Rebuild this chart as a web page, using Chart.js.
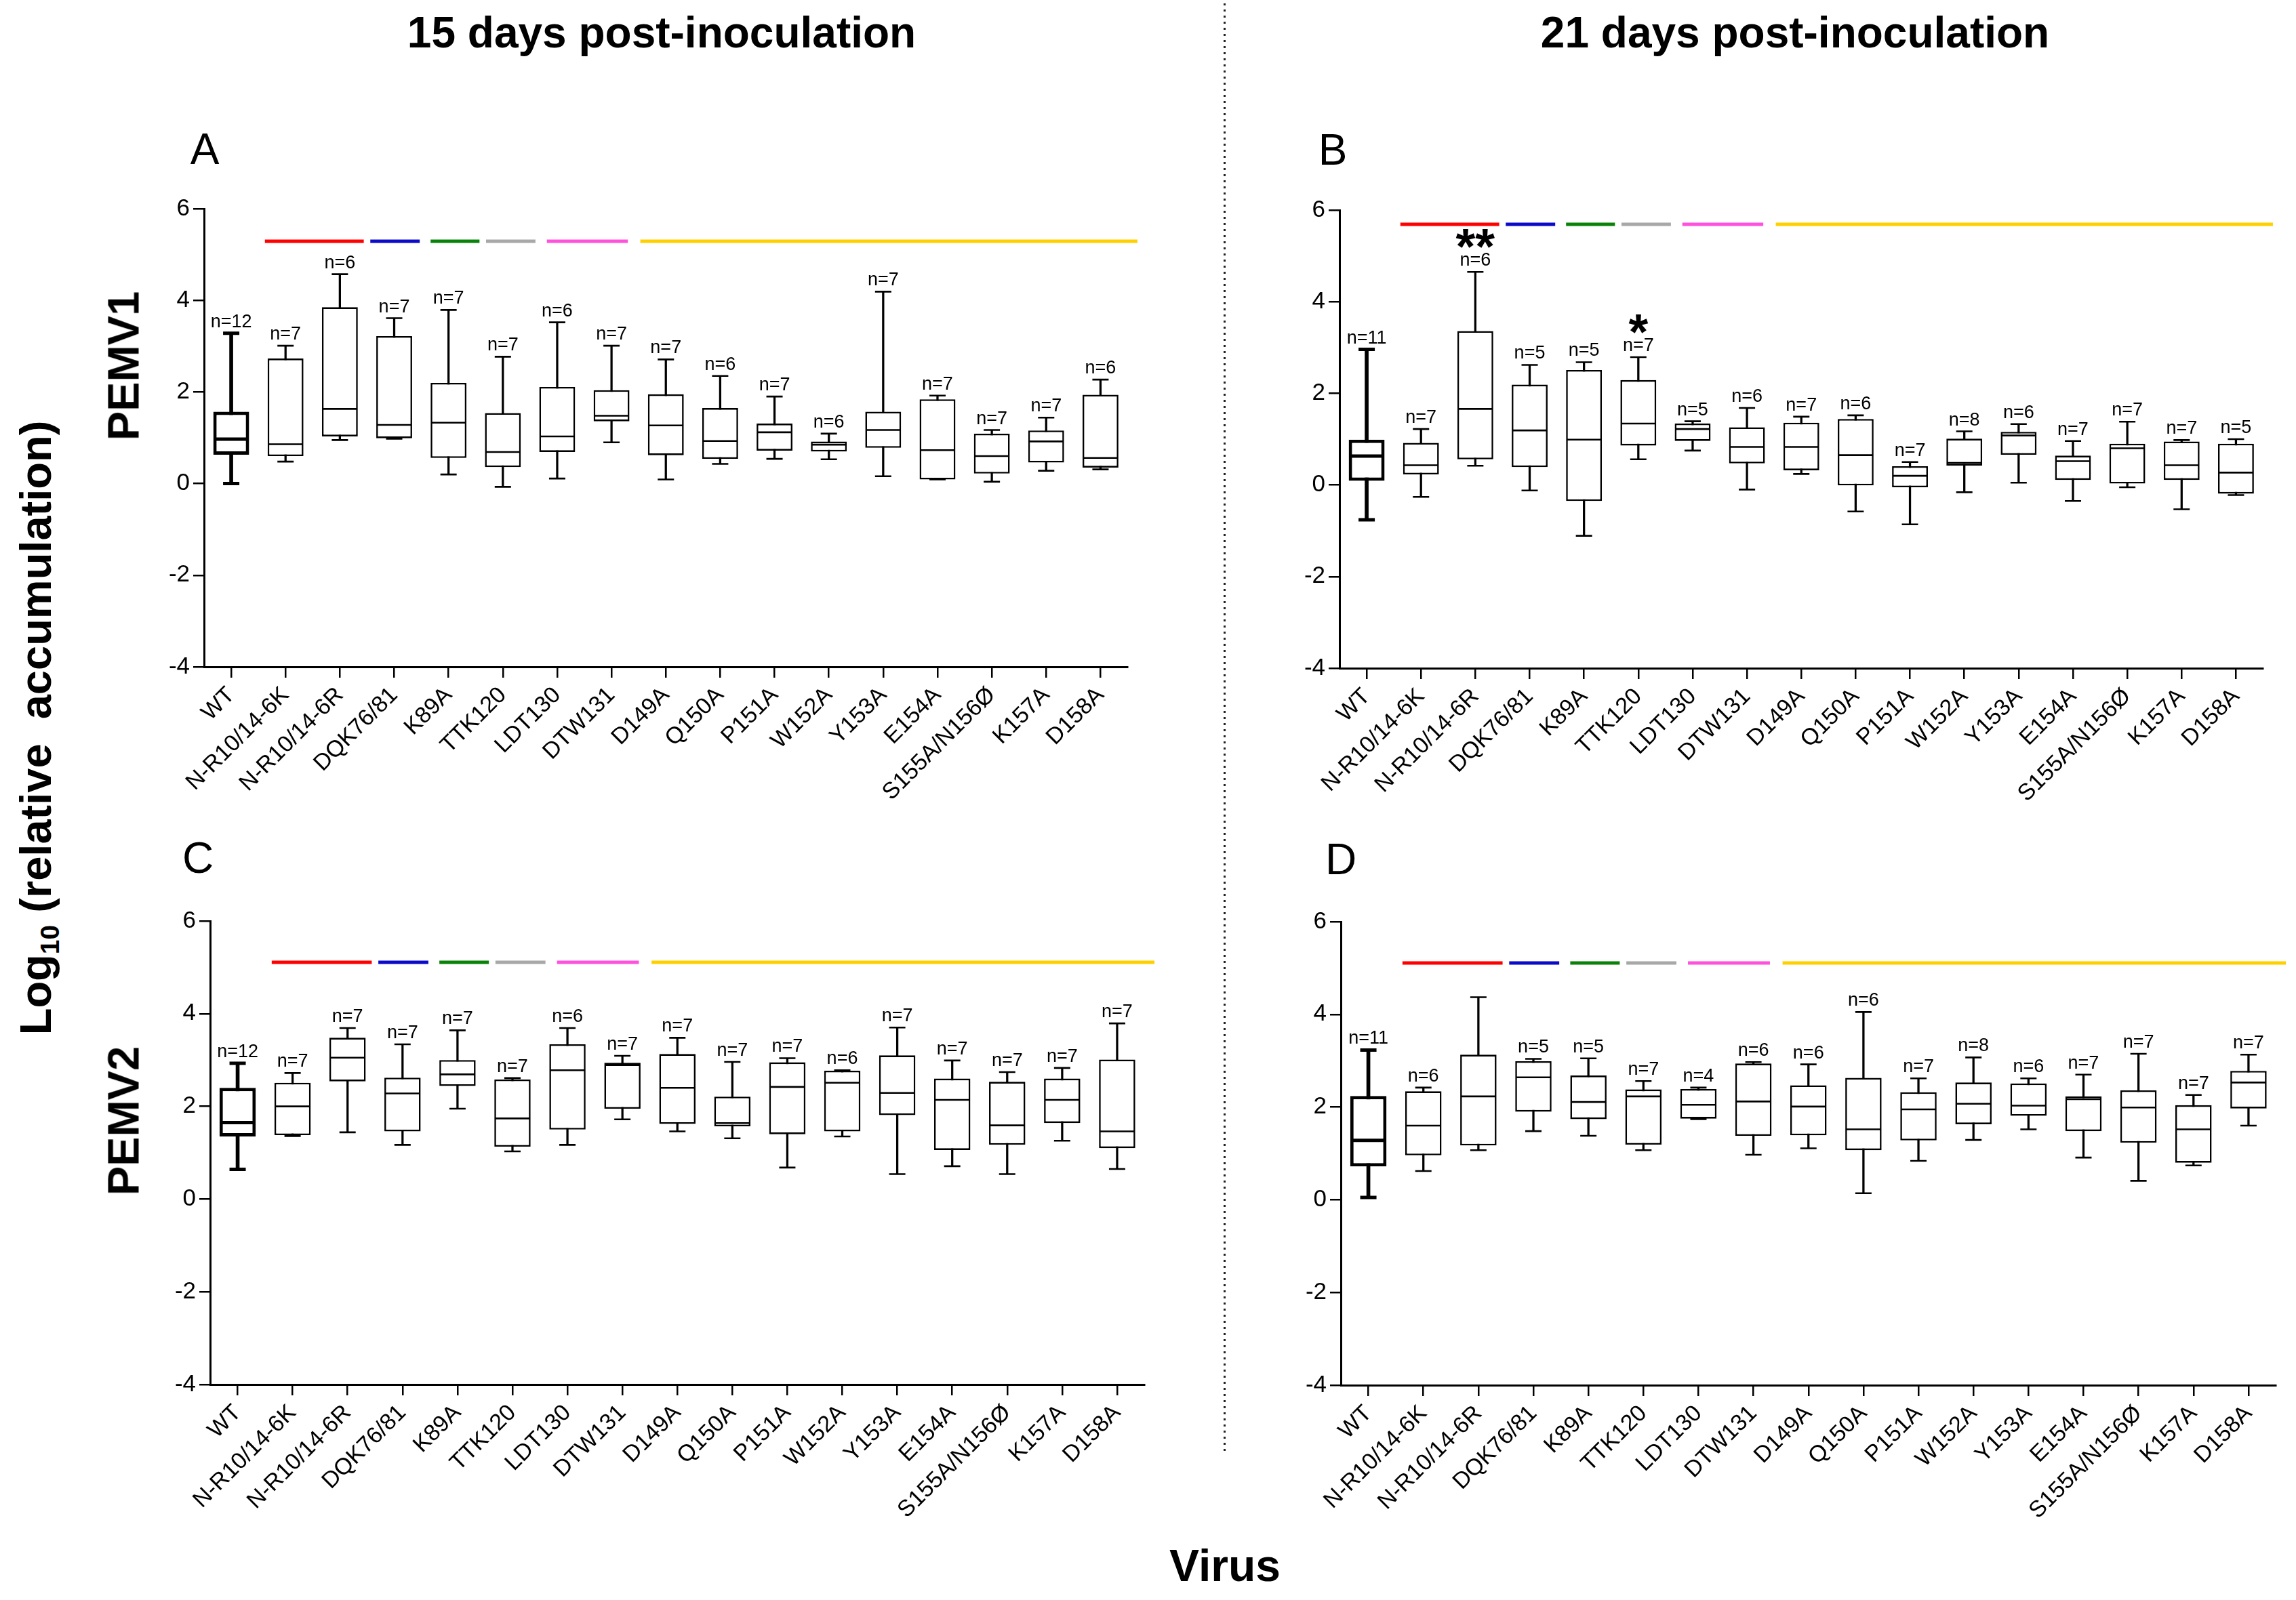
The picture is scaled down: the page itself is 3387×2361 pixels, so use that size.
<!DOCTYPE html>
<html><head><meta charset="utf-8">
<script src="https://cdn.jsdelivr.net/npm/chart.js@4.4.0/dist/chart.umd.min.js"></script>
<style>
html,body{margin:0;padding:0;background:#fff;}
body{width:3387px;height:2361px;position:relative;overflow:hidden;font-family:"Liberation Sans",Arial,sans-serif;}
.lbl{position:absolute;transform:translate(-50%,-50%);white-space:nowrap;line-height:1;color:#000;z-index:3;}
.rot{transform:translate(-50%,-50%) rotate(-90deg);}
.cv{position:absolute;z-index:1;}
#dots{position:absolute;left:1805px;top:5px;width:3px;height:2142px;background:repeating-linear-gradient(to bottom,#222 0px,#222 3px,transparent 3px,transparent 9px);z-index:0;}
</style></head><body>
<div id="dots"></div>
<div class="lbl" style="left:976px;top:48px;font-size:64px;font-weight:bold;">15 days post-inoculation</div>
<div class="lbl" style="left:2648px;top:48px;font-size:64px;font-weight:bold;">21 days post-inoculation</div>
<div class="lbl" style="left:302px;top:220px;font-size:64px;">A</div>
<div class="lbl" style="left:1966px;top:221px;font-size:64px;">B</div>
<div class="lbl" style="left:292px;top:1266px;font-size:64px;">C</div>
<div class="lbl" style="left:1978px;top:1268px;font-size:64px;">D</div>
<div class="lbl rot" style="left:182px;top:540px;font-size:65px;font-weight:bold;">PEMV1</div>
<div class="lbl rot" style="left:182px;top:1654px;font-size:65px;font-weight:bold;">PEMV2</div>
<div class="lbl rot" style="left:52px;top:1074px;font-size:65px;font-weight:bold;">Log<span style="font-size:0.6em;position:relative;top:0.3em;">10</span> (relative&nbsp; accumulation)</div>
<div class="lbl" style="left:1807px;top:2310px;font-size:66px;font-weight:bold;">Virus</div>

<canvas id="cA" class="cv" width="1513" height="1036" style="left:181px;top:248px;width:1513px;height:1036px;"></canvas>
<canvas id="cB" class="cv" width="1513" height="1036" style="left:1856px;top:250px;width:1513px;height:1036px;"></canvas>
<canvas id="cC" class="cv" width="1529" height="1044" style="left:190px;top:1299px;width:1529px;height:1044px;"></canvas>
<canvas id="cD" class="cv" width="1530" height="1044" style="left:1858px;top:1300px;width:1530px;height:1044px;"></canvas>

<script>
const categories = ["WT","N-R10/14-6K","N-R10/14-6R","DQK76/81","K89A","TTK120","LDT130","DTW131","D149A","Q150A","P151A","W152A","Y153A","E154A","S155A/N156\u00D8","K157A","D158A"];
const yTickValues = [-4,-2,0,2,4,6];

// Group bars (category units) and colours
const groupStart = [0.62, 2.56, 3.67, 4.69, 5.81, 7.53];
const groupEnd   = [2.44, 3.47, 4.57, 5.60, 7.30, 16.68];
const groupColors = ["#ff0000","#0a0ac8","#0a820a","#a8a8a8","#ff52dc","#ffd000"];
const aGroupY = 5.29, bGroupY = 5.69, cGroupY = 5.11, dGroupY = 5.11;

// Panel A: PEMV1, 15 dpi
const aMin = [0.00,0.48,0.95,0.98,0.20,-0.07,0.11,0.90,0.09,0.43,0.54,0.53,0.16,0.09,0.04,0.28,0.31];
const aQ1  = [0.63,0.60,1.03,0.99,0.56,0.36,0.69,1.36,0.62,0.54,0.72,0.70,0.78,0.09,0.22,0.46,0.35];
const aMed = [0.97,0.86,1.63,1.28,1.33,0.69,1.03,1.48,1.27,0.93,1.12,0.85,1.17,0.73,0.60,0.92,0.56];
const aQ3  = [1.57,2.73,3.85,3.22,2.20,1.54,2.11,2.04,1.95,1.65,1.31,0.92,1.57,1.84,1.09,1.16,1.94];
const aMax = [3.28,3.01,4.57,3.61,3.79,2.77,3.52,3.01,2.71,2.35,1.90,1.09,4.19,1.92,1.17,1.44,2.27];
const aN   = [12,7,6,7,7,7,6,7,7,6,7,6,7,7,7,7,6];

// Panel B: PEMV1, 21 dpi
const bMin = [-0.76,-0.26,0.42,-0.12,-1.11,0.56,0.75,-0.10,0.24,-0.58,-0.86,-0.16,0.05,-0.35,-0.05,-0.53,-0.22];
const bQ1  = [0.09,0.23,0.56,0.39,-0.35,0.86,0.96,0.47,0.32,-0.01,-0.05,0.42,0.66,0.11,0.03,0.11,-0.19];
const bMed = [0.63,0.43,1.66,1.19,0.99,1.34,1.22,0.83,0.83,0.65,0.20,0.48,1.08,0.52,0.80,0.43,0.27];
const bQ3  = [0.99,0.92,3.36,2.19,2.51,2.29,1.34,1.26,1.36,1.44,0.41,1.01,1.16,0.64,0.90,0.95,0.90];
const bMax = [2.96,1.22,4.65,2.62,2.68,2.79,1.39,1.68,1.49,1.52,0.50,1.17,1.33,0.96,1.38,0.98,1.00];
const bN   = [11,7,6,5,5,7,5,6,7,6,7,8,6,7,7,7,5];
const bStars = ["","","**","","","*","","","","","","","","","","",""];

// Panel C: PEMV2, 15 dpi
const cMin = [0.64,1.36,1.44,1.17,1.95,1.03,1.17,1.72,1.46,1.31,0.68,1.35,0.54,0.71,0.54,1.26,0.65];
const cQ1  = [1.35,1.38,2.54,1.46,2.44,1.13,1.50,1.95,1.62,1.57,1.40,1.46,1.81,1.06,1.17,1.64,1.10];
const cMed = [1.65,2.00,3.05,2.28,2.69,1.74,2.78,2.89,2.40,1.64,2.42,2.51,2.29,2.14,1.59,2.14,1.46];
const cQ3  = [2.40,2.51,3.48,2.62,3.00,2.58,3.34,2.94,3.13,2.21,2.95,2.77,3.10,2.60,2.53,2.60,3.01];
const cMax = [2.93,2.72,3.69,3.34,3.64,2.61,3.69,3.09,3.48,2.96,3.04,2.78,3.70,2.99,2.74,2.83,3.79];
const cN   = [12,7,7,7,7,7,6,7,7,7,7,6,7,7,7,7,7];

// Panel D: PEMV2, 21 dpi
const dMin = [0.05,0.62,1.07,1.48,1.38,1.07,1.74,0.97,1.11,0.14,0.84,1.29,1.52,0.91,0.41,0.74,1.60];
const dQ1  = [0.72,0.96,1.17,1.90,1.74,1.19,1.75,1.38,1.39,1.07,1.28,1.63,1.81,1.48,1.23,0.80,1.97];
const dMed = [1.28,1.60,2.23,2.64,2.11,2.23,2.05,2.12,2.01,1.52,1.95,2.07,2.03,2.17,1.99,1.52,2.53];
const dQ3  = [2.24,2.34,3.13,2.99,2.68,2.38,2.39,2.94,2.47,2.63,2.32,2.53,2.51,2.23,2.36,2.04,2.78];
const dMax = [3.23,2.42,4.37,3.04,3.05,2.56,2.42,2.97,2.92,4.05,2.62,3.07,2.62,2.70,3.15,2.26,3.13];
const dN   = [11,6,null,5,5,7,4,6,6,6,7,8,6,7,7,7,7];

Chart.defaults.font.family = '"Liberation Sans", Arial, sans-serif';
Chart.defaults.color = '#000';

const THIN = 2.6, BOLD = 5;
const lw = c => c.dataIndex === 0 ? BOLD : THIN;

function annotPlugin(maxs, ns, stars) {
  return {
    id: 'annot',
    afterDatasetsDraw(chart) {
      const ctx = chart.ctx, x = chart.scales.x, y = chart.scales.y;
      ctx.save();
      ctx.fillStyle = '#000';
      ctx.textAlign = 'center';
      ctx.textBaseline = 'alphabetic';
      ns.forEach((n, i) => {
        if (n == null) return;
        const px = x.getPixelForValue(i);
        const py = y.getPixelForValue(maxs[i]) - 9;
        ctx.font = '27px "Liberation Sans", Arial, sans-serif';
        ctx.fillText('n=' + n, px, py);
        if (stars && stars[i]) {
          const cy = py - 19.5 - 26;
          ctx.font = 'bold 74px "Liberation Sans", Arial, sans-serif';
          ctx.fillText(stars[i], px, cy + 0.57 * 74);
        }
      });
      ctx.restore();
    }
  };
}

function buildPanel(id, mins, q1s, meds, q3s, maxs, ns, stars, groupY) {
  const datasets = [];
  datasets.push({type:'bar', data: categories.map((_, i) => i === 0 ? null : [mins[i], maxs[i]]),
    backgroundColor:'#000', borderWidth:0, barThickness: THIN, grouped:false, order:6});
  datasets.push({type:'bar', data: categories.map((_, i) => i === 0 ? [mins[i], maxs[i]] : null),
    backgroundColor:'#000', borderWidth:0, barThickness: BOLD, grouped:false, order:6});
  [maxs, mins].forEach(arr => datasets.push({type:'line', data: arr, showLine:false,
    pointStyle:'line', pointRadius:12, pointHoverRadius:12, pointBorderWidth: lw, pointBorderColor:'#000', order:5}));
  datasets.push({type:'bar', data: categories.map((_, i) => [q1s[i], q3s[i]]),
    backgroundColor:'#fff', borderColor:'#000', borderWidth: lw, borderSkipped:false,
    barPercentage:0.66, categoryPercentage:1, grouped:false, order:4});
  datasets.push({type:'line', data: meds, showLine:false, pointStyle:'line', pointRadius:25.5, pointHoverRadius:25.5,
    pointBorderWidth: lw, pointBorderColor:'#000', order:3});
  groupStart.forEach((s, g) => datasets.push({type:'line', xAxisID:'x2',
    data:[{x:s, y:groupY},{x:groupEnd[g], y:groupY}], borderColor: groupColors[g], borderWidth:5,
    borderCapStyle:'butt', pointRadius:0, clip:false, order:2}));

  new Chart(document.getElementById(id), {
    type:'bar',
    data:{labels: categories, datasets},
    options:{
      responsive:false, devicePixelRatio:1, animation:false, events:[],
      layout:{padding:{top:60, right:30, left:0, bottom:0}},
      plugins:{legend:{display:false}, tooltip:{enabled:false}},
      scales:{
        x:{type:'category', offset:true,
          grid:{display:true, drawOnChartArea:false, drawTicks:true, tickLength:16, offset:false, color:'#000', lineWidth:2.5},
          border:{display:true, color:'#000', width:3},
          ticks:{autoSkip:false, minRotation:45, maxRotation:45, padding:6, color:'#000', font:{size:34}},
          afterFit: s => { s.height = 300; }
        },
        x2:{type:'linear', min:-0.5, max:16.5, display:false, offset:false},
        y:{type:'linear', min:-4, max:6,
          afterBuildTicks: s => { s.ticks = yTickValues.map(v => ({value:v})); },
          grid:{display:true, drawOnChartArea:false, drawTicks:true, tickLength:16, color:'#000', lineWidth:2.5},
          border:{display:true, color:'#000', width:3},
          ticks:{padding:5, color:'#000', font:{size:35}},
          afterFit: s => { s.width = 120; }
        }
      }
    },
    plugins:[annotPlugin(maxs, ns, stars)]
  });
}

buildPanel('cA', aMin, aQ1, aMed, aQ3, aMax, aN, null, aGroupY);
buildPanel('cB', bMin, bQ1, bMed, bQ3, bMax, bN, bStars, bGroupY);
buildPanel('cC', cMin, cQ1, cMed, cQ3, cMax, cN, null, cGroupY);
buildPanel('cD', dMin, dQ1, dMed, dQ3, dMax, dN, null, dGroupY);
</script>
</body></html>
